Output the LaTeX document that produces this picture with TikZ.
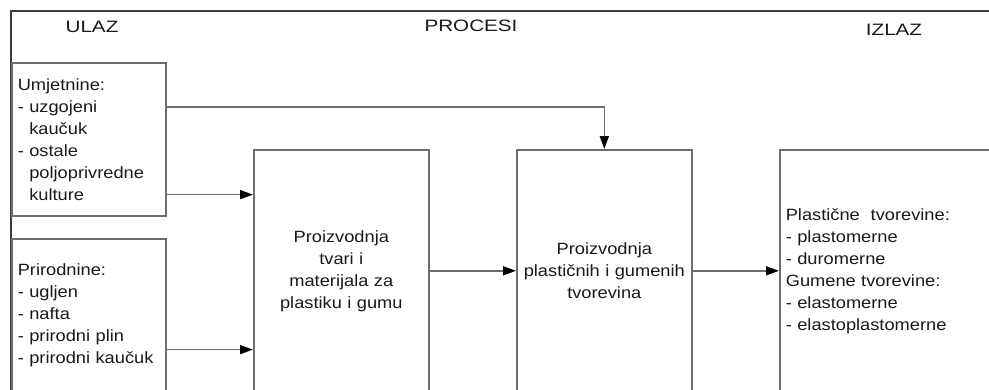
\documentclass[tikz,border=0pt]{standalone}
\usepackage{fontspec}
\setmainfont{Liberation Sans}[FakeStretch=1.12]
\newfontfamily\headfont{Liberation Sans}[FakeStretch=1.25]
\usepackage{tikz}
\usetikzlibrary{positioning, arrows.meta}
\definecolor{linegray}{RGB}{110,110,110}
\definecolor{framegray}{RGB}{60,60,60}
\definecolor{textgray}{RGB}{25,25,25}
\tikzset{
  block/.style   = {draw=linegray, line width=1.6pt, inner xsep=6pt, font=\fontsize{16.3}{22}\selectfont, text=textgray},
  inbox/.style   = {block, text width=142pt, align=left, minimum height=153pt, anchor=north west},
  procbox/.style = {block, inner xsep=2pt, text width=171pt, align=center, minimum height=242pt, anchor=north west},
  heading/.style = {font=\headfont\fontsize{16.5}{22}\selectfont, text=textgray},
  arr/.style     = {-{Triangle[length=13pt, width=9pt, color=black]}, draw=linegray, line width=1.6pt}
}
\newcommand{\ind}{\phantom{- }}

\begin{document}
\begin{tikzpicture}[x=1pt, y=-1pt]
        \useasboundingbox (0,0) rectangle (989,389);
        \clip (0,0) rectangle (989,389);
        \draw[draw=framegray, line width=1.6pt] (11,400) |- (1000,11);
        \node[heading] (ulaz)    at (92, 27)  {ULAZ};
        \node[heading] (procesi) at (471, 26) {PROCESI};
        \node[heading] (izlaz)   at (894, 30) {IZLAZ};
        \node[inbox]   (umj)  at (11, 62)  {Umjetnine:\\- uzgojeni\\\ind kaučuk\\- ostale\\\ind poljoprivredne\\\ind kulture};
        \node[inbox]   (prir) at (11, 238) {Prirodnine:\\- ugljen\\- nafta\\- prirodni plin\\- prirodni kaučuk};
        \node[procbox] (tvari) at (253, 149) {Proizvodnja\\tvari i\\materijala za\\plastiku i gumu};
        \node[procbox] (plast) at (516, 149) {Proizvodnja\\plastičnih i gumenih\\tvorevina};
        \node[block, text width=238pt, align=left, minimum height=242pt, anchor=north west] (izl) at (779, 149)
          {Plastične~ tvorevine:\\- plastomerne\\- duromerne\\Gumene tvorevine:\\- elastomerne\\- elastoplastomerne};
        \coordinate (u0) at ([yshift=-45pt]umj.north east);
        \coordinate (u1) at ([yshift=22pt]umj.south east);
        \coordinate (p1) at ([yshift=43pt]prir.south east);
        \draw[arr] (u0) -| (plast.north);
        \draw[arr] (u1) -- (u1 -| tvari.west);
        \draw[arr] (p1) -- (p1 -| tvari.west);
        \draw[arr] (tvari.east) -- (plast.west);
        \draw[arr] (plast.east) -- (izl.west);
      \end{tikzpicture}
\end{document}
